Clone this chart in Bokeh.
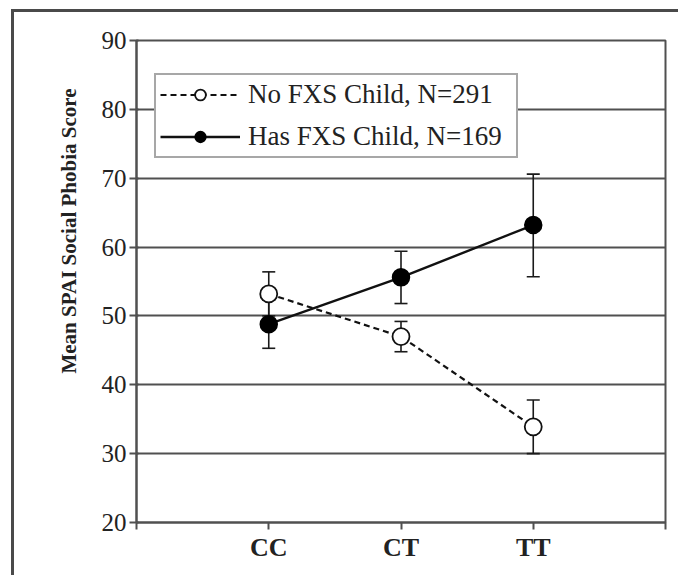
from bokeh.plotting import figure
from bokeh.models import (ColumnDataSource, Whisker, TeeHead, FixedTicker,
                          Legend, LegendItem, Range1d, Title)
from bokeh.embed import file_html
from bokeh.resources import INLINE

# ---- data ----
genotypes = ["CC", "CT", "TT"]
no_fxs_mean = [53.2, 47.0, 33.9]
no_fxs_lower = [50.0, 44.8, 30.0]
no_fxs_upper = [56.4, 49.2, 37.8]
has_fxs_mean = [48.8, 55.6, 63.2]
has_fxs_lower = [45.3, 51.8, 55.7]
has_fxs_upper = [52.3, 59.4, 70.6]
y_ticks = [20, 30, 40, 50, 60, 70, 80, 90]
no_fxs_label = "No FXS Child, N=291"
has_fxs_label = "Has FXS Child, N=169"
y_title = "Mean SPAI Social Phobia Score"

xpos = [i + 1 for i in range(len(genotypes))]
src_no = ColumnDataSource(dict(x=xpos, y=no_fxs_mean, lo=no_fxs_lower, hi=no_fxs_upper))
src_has = ColumnDataSource(dict(x=xpos, y=has_fxs_mean, lo=has_fxs_lower, hi=has_fxs_upper))

FONT = "Liberation Serif"
INK = "#222222"
GRID = "#505050"

p = figure(width=667, height=566, output_backend="svg", toolbar_location=None,
           x_range=Range1d(0, len(genotypes) + 1), y_range=Range1d(20, 90),
           min_border_left=122, min_border_right=16, min_border_top=28,
           min_border_bottom=56)
# outer frame of the original figure (open to the bottom, as cropped)
p.styles = {"border-top": "3px solid #4a4a4a", "border-left": "3px solid #4a4a4a",
            "margin-left": "11px", "margin-top": "9px"}

p.outline_line_color = GRID
p.outline_line_width = 2
p.background_fill_color = "white"
p.border_fill_color = "white"

# grid
p.xgrid.visible = False
p.ygrid.ticker = FixedTicker(ticks=y_ticks)
p.ygrid.grid_line_color = GRID
p.ygrid.grid_line_width = 2

# y axis
p.yaxis.ticker = FixedTicker(ticks=y_ticks)
p.yaxis.major_label_text_font = FONT
p.yaxis.major_label_text_font_size = "25px"
p.yaxis.major_label_text_color = INK
p.yaxis.major_label_standoff = 3
p.yaxis.major_tick_out = 7
p.yaxis.major_tick_in = 2
p.yaxis.minor_tick_line_color = None
p.yaxis.axis_line_color = GRID
p.yaxis.axis_line_width = 2
p.yaxis.major_tick_line_color = GRID
p.yaxis.major_tick_line_width = 2

# y axis title, placed like the original (towards the top of the frame)
ytitle = Title(text=y_title, align="right", offset=48, standoff=35,
               text_font=FONT, text_font_style="bold", text_font_size="21px",
               text_color=INK)
p.add_layout(ytitle, "left")

# x axis
p.xaxis.ticker = FixedTicker(ticks=[0] + xpos + [len(genotypes) + 1])
overrides = {0: "", len(genotypes) + 1: ""}
for xi, g in zip(xpos, genotypes):
    overrides[xi] = g
p.xaxis.major_label_overrides = overrides
p.xaxis.major_label_text_font = FONT
p.xaxis.major_label_text_font_style = "bold"
p.xaxis.major_label_text_font_size = "26px"
p.xaxis.major_label_text_color = INK
p.xaxis.major_label_standoff = 3
p.xaxis.major_tick_out = 7
p.xaxis.major_tick_in = 0
p.xaxis.minor_tick_line_color = None
p.xaxis.axis_line_color = GRID
p.xaxis.axis_line_width = 2
p.xaxis.major_tick_line_color = GRID
p.xaxis.major_tick_line_width = 2

# error bars
for src in (src_no, src_has):
    w = Whisker(source=src, base="x", upper="hi", lower="lo",
                line_color="#1a1a1a", line_width=1.6,
                upper_head=TeeHead(size=13, line_color="#1a1a1a", line_width=1.6),
                lower_head=TeeHead(size=13, line_color="#1a1a1a", line_width=1.6))
    p.add_layout(w)

# lines
l_no = p.line("x", "y", source=src_no, line_color="#111111", line_width=2.2, line_dash="6 4")
l_has = p.line("x", "y", source=src_has, line_color="#111111", line_width=2.4)

# markers
m_no = p.scatter("x", "y", source=src_no, size=17, marker="circle",
                 fill_color="white", line_color="#111111", line_width=1.8)
m_has = p.scatter("x", "y", source=src_has, size=17, marker="circle",
                  fill_color="#000000", line_color="#000000", line_width=1.5)

legend = Legend(items=[LegendItem(label=no_fxs_label, renderers=[l_no, m_no]),
                       LegendItem(label=has_fxs_label, renderers=[l_has, m_has])],
                location=(18, 364))
legend.border_line_color = GRID
legend.border_line_width = 2
legend.background_fill_color = "white"
legend.background_fill_alpha = 1
legend.label_text_font = FONT
legend.label_text_font_size = "27px"
legend.label_text_color = INK
legend.glyph_width = 80
legend.glyph_height = 27
legend.label_height = 27
legend.label_width = 264
legend.label_standoff = 8
legend.spacing = 11
legend.padding = 4
legend.margin = 0
p.add_layout(legend, "center")

open("out.html", "w").write(file_html(p, INLINE))
